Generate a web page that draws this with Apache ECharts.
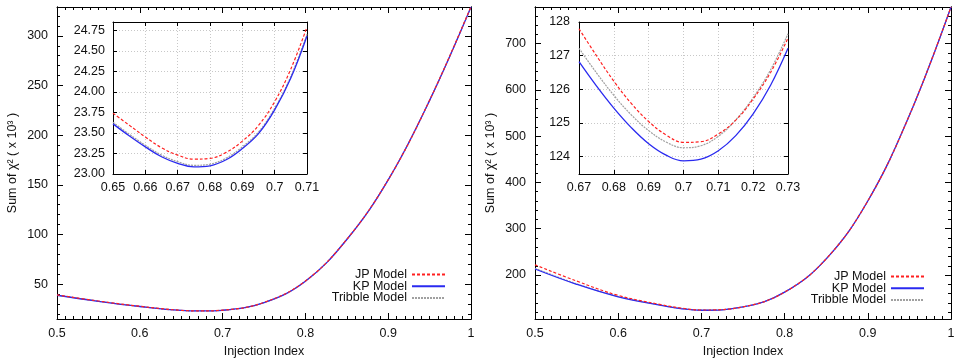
<!DOCTYPE html>
<html>
<head>
<meta charset="utf-8">
<script src="https://cdn.jsdelivr.net/npm/echarts@6/dist/echarts.min.js"></script>
<style>
  html, body { margin: 0; background: #fff; }
  #chart { width: 958px; height: 364px; }
</style>
</head>
<body>
<div id="chart"></div>
<script>
const FONT = '"Liberation Sans", Arial, sans-serif'
const FS = 12.5

// left panel, full range
const mainIdx = [0.5, 0.55, 0.6, 0.65, 0.675, 0.7, 0.75, 0.8, 0.85, 0.9, 0.95, 1.0]
const leftJP = [39.3, 33.1, 27.8, 23.74, 23.17, 23.88, 31.7, 53.2, 95.2, 155.2, 235.2, 329.5]
const leftKP = [38.9, 32.8, 27.6, 23.61, 23.08, 23.78, 31.5, 53, 95, 155, 235, 329]
const leftTri = [39.0, 32.9, 27.6, 23.63, 23.1, 23.8, 31.5, 53, 95, 155, 235, 329]

// left panel, inset
const leftZoomIdx = [0.65, 0.655, 0.66, 0.665, 0.67, 0.675, 0.68, 0.685, 0.69, 0.695, 0.7, 0.705, 0.71]
const leftZoomJP = [23.74, 23.595, 23.45, 23.32, 23.23, 23.181, 23.19, 23.263, 23.4, 23.591, 23.88, 24.278, 24.79]
const leftZoomKP = [23.61, 23.465, 23.33, 23.21, 23.13, 23.086, 23.1, 23.173, 23.31, 23.491, 23.78, 24.168, 24.68]
const leftZoomTri = [23.63, 23.485, 23.35, 23.23, 23.15, 23.106, 23.12, 23.193, 23.33, 23.511, 23.8, 24.188, 24.7]

// right panel, full range
const rightJP = [222, 187, 156, 136.5, 128.8, 124.42, 131.2, 163, 235, 360, 545, 779]
const rightKP = [213, 180, 153, 135, 127.5, 123.87, 131, 163, 235, 360, 545, 779]
const rightTri = [214.5, 181, 153.8, 135.5, 128, 124.26, 131.2, 163, 235, 360, 545, 779]

// right panel, inset
const rightZoomIdx = [0.67, 0.675, 0.68, 0.685, 0.69, 0.695, 0.7, 0.705, 0.71, 0.715, 0.72, 0.725, 0.73]
const rightZoomJP = [127.8, 127.0, 126.24, 125.58, 125.04, 124.64, 124.42, 124.44, 124.67, 125.08, 125.71, 126.5, 127.52]
const rightZoomKP = [126.82, 126.1, 125.44, 124.86, 124.38, 124.04, 123.87, 123.92, 124.17, 124.62, 125.27, 126.12, 127.22]
const rightZoomTri = [127.22, 126.49, 125.82, 125.24, 124.77, 124.43, 124.26, 124.32, 124.6, 125.09, 125.75, 126.58, 127.65]

const leftTicks = [50, 100, 150, 200, 250, 300]
const rightTicks = [200, 300, 400, 500, 600, 700]
const rightZoomTicks = [124, 125, 126, 127, 128]

const NAMES = ['JP Model', 'KP Model', 'Tribble Model']
const STYLES = [
  { color: '#ff2020', width: 1.2, type: [3, 2] },
  { color: '#2a2af0', width: 1.3, type: 'solid' },
  { color: '#a0a0a0', width: 1.2, type: [2, 1] },
]

const pairs = (xs, ys) => xs.map((x, i) => [x, ys[i]])
const minorOf = (min, max, step, skip) => {
  const out = []
  for (let v = Math.ceil(min / step) * step; v < max; v += step) {
    const r = Math.round(v * 1000) / 1000
    if (r % skip !== 0) out.push(r)
  }
  return out
}

const label = { color: '#111', fontSize: FS, fontFamily: FONT }
const black = { color: '#000', width: 1 }

function xAxis(grid, top, min, max, extra) {
  return Object.assign({
    type: 'value', gridIndex: grid, position: top ? 'top' : 'bottom',
    min, max, interval: 0.01,
    axisLine: { show: true, onZero: false, lineStyle: black },
    axisTick: { show: true, inside: true, length: 4, lineStyle: black },
    axisLabel: Object.assign({ show: !top, margin: 7 }, label),
    splitLine: { show: false },
  }, extra || {})
}

function yAxisCustom(grid, right, min, max, values, len, showLabel, extra) {
  return Object.assign({
    type: 'value', gridIndex: grid, position: right ? 'right' : 'left',
    min, max,
    axisLine: { show: true, onZero: false, lineStyle: black },
    axisTick: { show: true, inside: true, length: len, lineStyle: black, customValues: values },
    axisLabel: Object.assign({ show: showLabel, margin: 9, customValues: values }, label),
    splitLine: { show: false },
  }, extra || {})
}

const yName = {
  name: 'Sum of χ² ( x 10³ )', nameLocation: 'middle', nameGap: 38, nameRotate: 90,
  nameTextStyle: { color: '#111', fontSize: FS, fontFamily: FONT },
}

const mainXExtra = (top) => ({
  interval: 0.1,
  axisTick: { show: true, inside: true, length: 6, lineStyle: black },
  minorTick: { show: true, splitNumber: 10, length: 3, lineStyle: black },
  axisLabel: Object.assign({ show: !top, margin: 8 }, label),
  name: top ? '' : 'Injection Index', nameLocation: 'middle', nameGap: 25,
  nameTextStyle: { color: '#111', fontSize: FS, fontFamily: FONT },
})

const dotted = { show: true, lineStyle: { color: '#c8c8c8', type: [1, 2], width: 1 } }

const grid = [
  { left: 57, top: 7, width: 414, height: 312 },
  { left: 113, top: 22, width: 194, height: 152, show: true, backgroundColor: '#fff', borderWidth: 0 },
  { left: 535, top: 7, width: 416, height: 312 },
  { left: 579, top: 22, width: 209, height: 152, show: true, backgroundColor: '#fff', borderWidth: 0 },
]

const xAxes = [
  xAxis(0, false, 0.5, 1, mainXExtra(false)),       // 0
  xAxis(0, true, 0.5, 1, mainXExtra(true)),         // 1
  xAxis(1, false, 0.65, 0.71, { splitLine: dotted }), // 2
  xAxis(1, true, 0.65, 0.71),                       // 3
  xAxis(2, false, 0.5, 1, mainXExtra(false)),       // 4
  xAxis(2, true, 0.5, 1, mainXExtra(true)),         // 5
  xAxis(3, false, 0.67, 0.73, { splitLine: dotted }), // 6
  xAxis(3, true, 0.67, 0.73),                       // 7
]

const yAxes = [
  yAxisCustom(0, false, 15, 329, leftTicks, 6, true, yName),          // 0
  yAxisCustom(0, true, 15, 329, leftTicks, 6, false),                 // 1
  yAxisCustom(0, false, 15, 329, minorOf(15, 329, 10, 50), 3, false), // 2
  yAxisCustom(0, true, 15, 329, minorOf(15, 329, 10, 50), 3, false),  // 3
  {                                                                   // 4
    type: 'value', gridIndex: 1, position: 'left', min: 23, max: 24.85, interval: 0.25,
    axisLine: { show: true, lineStyle: black },
    axisTick: { show: true, inside: true, length: 4, lineStyle: black },
    axisLabel: Object.assign({ margin: 8, showMaxLabel: false, formatter: v => v.toFixed(2) }, label),
    splitLine: dotted,
  },
  {                                                                   // 5
    type: 'value', gridIndex: 1, position: 'right', min: 23, max: 24.85, interval: 0.25,
    axisLine: { show: true, lineStyle: black },
    axisTick: { show: true, inside: true, length: 4, lineStyle: black },
    axisLabel: { show: false }, splitLine: { show: false },
  },
  yAxisCustom(2, false, 105, 779, rightTicks, 6, true, yName),          // 6
  yAxisCustom(2, true, 105, 779, rightTicks, 6, false),                 // 7
  yAxisCustom(2, false, 105, 779, minorOf(105, 779, 20, 100), 3, false), // 8
  yAxisCustom(2, true, 105, 779, minorOf(105, 779, 20, 100), 3, false),  // 9
  yAxisCustom(3, false, 123.48, 128, rightZoomTicks, 4, true, { splitLine: dotted }), // 10
  yAxisCustom(3, true, 123.48, 128, rightZoomTicks, 4, false),          // 11
]

function lines(xIdx, yIdx, xs, sets) {
  return sets.map((ys, i) => ({
    name: NAMES[i], type: 'line', xAxisIndex: xIdx, yAxisIndex: yIdx,
    data: pairs(xs, ys), smooth: 0.4, symbol: 'none', silent: true,
    lineStyle: STYLES[i], itemStyle: { color: STYLES[i].color },
    z: 3 - i,
  }))
}

const series = [
  ...lines(0, 0, mainIdx, [leftJP, leftKP, leftTri]),
  ...lines(2, 4, leftZoomIdx, [leftZoomJP, leftZoomKP, leftZoomTri]),
  ...lines(4, 6, mainIdx, [rightJP, rightKP, rightTri]),
  ...lines(6, 10, rightZoomIdx, [rightZoomJP, rightZoomKP, rightZoomTri]),
]

const legendBase = {
  orient: 'vertical', align: 'right', data: NAMES,
  itemWidth: 33, itemHeight: 12, itemGap: -1.3, selectedMode: false,
  itemStyle: { opacity: 0 },
  textStyle: { color: '#111', fontSize: FS, fontFamily: FONT, lineHeight: 12 },
}

const chart = echarts.init(document.getElementById('chart'), null, { renderer: 'canvas' })
chart.setOption({
  animation: false,
  backgroundColor: '#fff',
  grid,
  xAxis: xAxes,
  yAxis: yAxes,
  legend: [
    Object.assign({ right: 507, top: 263 }, legendBase),
    Object.assign({ right: 28, top: 265 }, legendBase),
  ],
  series,
})
</script>
</body>
</html>
